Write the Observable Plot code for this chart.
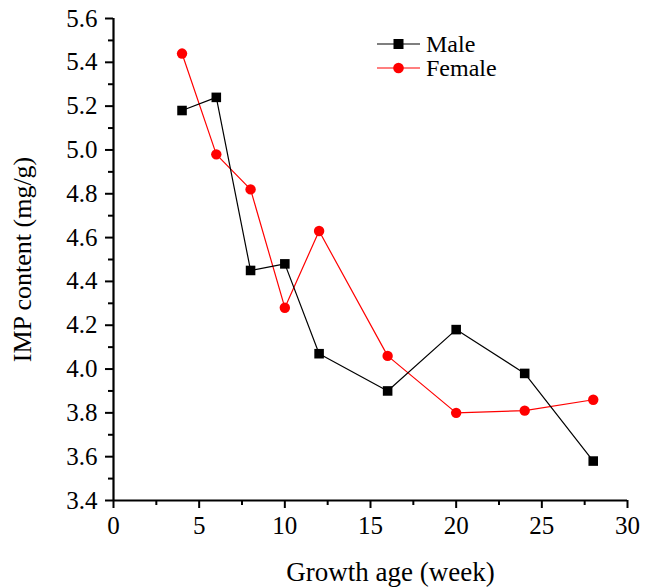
<!DOCTYPE html>
<html>
<head>
<meta charset="utf-8">
<script src="https://cdn.jsdelivr.net/npm/d3@7"></script>
<script src="https://cdn.jsdelivr.net/npm/@observablehq/plot@0.6"></script>
<style>
  html, body { margin: 0; padding: 0; background: #fff; }
  #wrap { position: relative; width: 646px; height: 587px; }
  #chart svg, #chart svg text { font-family: "Liberation Serif", "Times New Roman", serif !important; }
  #legend { position: absolute; left: 377px; top: 32px; font-family: "Liberation Serif", "Times New Roman", serif; font-size: 24px; color: #000; line-height: 1; }
  #legend .row { display: flex; align-items: center; height: 24px; }
  #legend svg { margin-right: 6px; }
</style>
</head>
<body>
<div id="wrap"><div id="chart"></div><div id="legend"></div></div>
<script>
const weeks = [4, 6, 8, 10, 12, 16, 20, 24, 28];
const maleValues = [5.18, 5.24, 4.45, 4.48, 4.07, 3.90, 4.18, 3.98, 3.58];
const femaleValues = [5.44, 4.98, 4.82, 4.28, 4.63, 4.06, 3.80, 3.81, 3.86];
const seriesNames = ["Male", "Female"];
const seriesColors = ["#000000", "#ff0000"];
const xTicks = [0, 5, 10, 15, 20, 25, 30];
const xMinorTicks = [2.5, 7.5, 12.5, 17.5, 22.5, 27.5];
const yTicks = [3.4, 3.6, 3.8, 4.0, 4.2, 4.4, 4.6, 4.8, 5.0, 5.2, 5.4, 5.6];
const yMinorTicks = [3.5, 3.7, 3.9, 4.1, 4.3, 4.5, 4.7, 4.9, 5.1, 5.3, 5.5];
const xLabel = "Growth age (week)";
const yLabel = "IMP content (mg/g)";

const male = weeks.map((w, i) => ({week: w, value: maleValues[i], series: "Male"}));
const female = weeks.map((w, i) => ({week: w, value: femaleValues[i], series: "Female"}));

const font = '"Liberation Serif", "Times New Roman", serif';

const chart = Plot.plot({
  width: 646,
  height: 587,
  marginLeft: 113,
  marginRight: 19,
  marginTop: 18,
  marginBottom: 87,
  style: {fontFamily: font, fontSize: "25px", color: "#000", background: "#fff", overflow: "visible"},
  x: {domain: [0, 30]},
  y: {domain: [3.4, 5.6]},
  marks: [
    Plot.axisX({ticks: xMinorTicks, tickSize: 5, strokeWidth: 2, text: null, label: null}),
    Plot.axisX({ticks: xTicks, tickSize: 8, strokeWidth: 2, tickPadding: 8, tickFormat: d3.format("d"), label: null, fontSize: 25, fontFamily: font, fontVariant: "normal"}),
    Plot.axisY({ticks: yMinorTicks, tickSize: 5, strokeWidth: 2, text: null, label: null}),
    Plot.axisY({ticks: yTicks, tickSize: 8, strokeWidth: 2, tickPadding: 8, tickFormat: d3.format(".1f"), label: null, fontSize: 25, fontFamily: font, fontVariant: "normal"}),
    Plot.ruleX([0], {strokeWidth: 2.2}),
    Plot.ruleY([3.4], {strokeWidth: 2.2}),
    Plot.line(female, {x: "week", y: "value", stroke: seriesColors[1], strokeWidth: 1.2}),
    Plot.line(male, {x: "week", y: "value", stroke: seriesColors[0], strokeWidth: 1.2}),
    Plot.dot(female, {x: "week", y: "value", fill: seriesColors[1], r: 5.2, symbol: "circle"}),
    Plot.dot(male, {x: "week", y: "value", fill: seriesColors[0], r: 5.4, symbol: "square"}),
    Plot.text([xLabel], {frameAnchor: "bottom", dx: 20, dy: 72, fontSize: 27, fontFamily: font, textAnchor: "middle", lineAnchor: "middle"}),
    Plot.text([yLabel], {frameAnchor: "left", dx: -91, rotate: -90, fontSize: 26, fontFamily: font, textAnchor: "middle", lineAnchor: "middle"})
  ]
});
document.getElementById("chart").appendChild(chart);

const legend = document.getElementById("legend");
seriesNames.forEach((name, i) => {
  const row = document.createElement("div");
  row.className = "row";
  const sym = i === 0
    ? `<rect x="16.5" y="7" width="10" height="10" fill="${seriesColors[i]}"/>`
    : `<circle cx="21.5" cy="12" r="5.3" fill="${seriesColors[i]}"/>`;
  row.innerHTML = `<svg width="43" height="24"><line x1="0" x2="43" y1="12" y2="12" stroke="${seriesColors[i]}" stroke-width="1.2"/>${sym}</svg><span>${name}</span>`;
  legend.appendChild(row);
});
</script>
</body>
</html>
